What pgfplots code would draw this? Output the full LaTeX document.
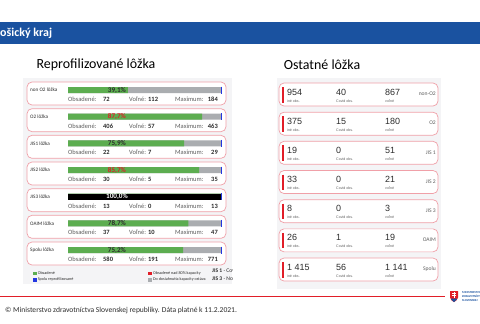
\documentclass[border=0pt]{standalone}
\usepackage{pgfplots}
\pgfplotsset{compat=1.18}
\usepackage{fontspec}
\setmainfont{Carlito}
\newfontfamily\cardfont{Liberation Sans}
\newcommand\fs[1]{\fontsize{#1}{#1}\selectfont}

\definecolor{hdrblue}{RGB}{26,82,160}
\definecolor{occgreen}{RGB}{92,173,80}
\definecolor{freegray}{RGB}{170,173,176}
\definecolor{capblue}{RGB}{35,55,225}
\definecolor{overred}{RGB}{225,30,40}
\definecolor{cardedge}{RGB}{240,160,168}
\definecolor{panelbg}{RGB}{244,244,246}
\definecolor{txtgray}{RGB}{95,95,95}
\definecolor{txtdark}{RGB}{45,45,45}

% occupancy of reprofiled beds, in percent of capacity
\pgfplotstableread{
idx pct
0 39.1
1 87.7
2 75.9
3 85.7
4 100
5 78.7
6 75.2
}\occtable

\begin{document}
\begin{tikzpicture}[x=1bp,y=1bp]
\useasboundingbox (0,0) rectangle (480,-323);
\clip (0,0) rectangle (480,-323);
\fill[white] (0,0) rectangle (480,-323);

% header band
\fill[hdrblue] (0,-22) rectangle (480,-44);
\node[anchor=west,inner sep=0pt,text=white,font=\bfseries\fs{12}] at (0,-33) {\llap{K}ošický kraj};

% panel titles
\node[font=\fs{14},text=black] at (96,-65) {Reprofilizované lôžka};
\node[font=\fs{14},text=black] at (322,-65) {Ostatné lôžka};

% panel backgrounds
\fill[panelbg] (23,-78) rectangle (232,-284);
\fill[panelbg] (277,-78) rectangle (441,-289);

% left cards with labels and counts
\foreach \i/\lab/\o/\v/\m in {0/non O2 lôžka/72/112/184, 1/O2 lôžka/406/57/463,
    2/JIS1 lôžka/22/7/29, 3/JIS2 lôžka/30/5/35, 4/JIS3 lôžka/13/0/13,
    5/OAIM lôžka/37/10/47, 6/Spolu lôžka/580/191/771}{
  \pgfmathsetmacro\yb{-(90+26.667*\i)}
  \draw[cardedge,fill=white,line width=0.7bp,rounded corners=5bp]
    (27,\yb+8) rectangle (226,\yb-15);
  \node[anchor=west,inner sep=0pt,font=\fs{5.2},text=txtdark] at (30,\yb) {\lab};
  \node[anchor=base west,inner sep=0pt,font=\fs{6.5},text=txtgray] at (68,\yb-11.5) {Obsadené:};
  \node[anchor=base west,inner sep=0pt,font=\bfseries\fs{6.5},text=txtdark] at (103,\yb-11.5) {\o};
  \node[anchor=base west,inner sep=0pt,font=\fs{6.5},text=txtgray] at (129,\yb-11.5) {Voľné:};
  \node[anchor=base west,inner sep=0pt,font=\bfseries\fs{6.5},text=txtdark] at (148,\yb-11.5) {\v};
  \node[anchor=base west,inner sep=0pt,font=\fs{6.5},text=txtgray] at (175,\yb-11.5) {Maximum:};
  \node[anchor=base east,inner sep=0pt,font=\bfseries\fs{6.5},text=txtdark] at (218,\yb-11.5) {\m};
}

% right cards
\foreach \i/\a/\b/\c/\lab in {0/954/40/867/non-O2, 1/375/15/180/O2, 2/19/0/51/JIS 1,
    3/33/0/21/JIS 2, 4/8/0/3/JIS 3, 5/26/1/19/OAIM, 6/{1 415}/56/{1 141}/Spolu}{
  \pgfmathsetmacro\yt{-(83+29.17*\i)}
  \draw[cardedge,fill=white,line width=0.7bp,rounded corners=5bp]
    (279,\yt) rectangle (438,\yt-23);
  \draw[overred,line width=1.1bp] (283,\yt-4) -- (283,\yt-19.5);
  \node[anchor=base west,inner sep=0pt,font=\cardfont\fs{9},text=txtdark] at (287,\yt-12) {\a};
  \node[anchor=base west,inner sep=0pt,font=\cardfont\fs{9},text=txtdark] at (336,\yt-12) {\b};
  \node[anchor=base west,inner sep=0pt,font=\cardfont\fs{9},text=txtdark] at (385,\yt-12) {\c};
  \node[anchor=base west,inner sep=0pt,font=\cardfont\fs{3.6},text=txtgray] at (287,\yt-19) {iné obs.};
  \node[anchor=base west,inner sep=0pt,font=\cardfont\fs{3.6},text=txtgray] at (336,\yt-19) {Covid obs.};
  \node[anchor=base west,inner sep=0pt,font=\cardfont\fs{3.6},text=txtgray] at (385,\yt-19) {voľné};
  \node[anchor=east,inner sep=0pt,font=\fs{5.6},text=txtgray] at (436,\yt-11) {\lab};
}

% occupancy bars
\begin{axis}[
  at={(68bp,-250bp)}, anchor=south west,
  scale only axis, width=153bp, height=160bp,
  xmin=0, xmax=100, ymin=0, ymax=6, y dir=reverse,
  enlargelimits=false, hide axis, clip=false,
  legend columns=2, transpose legend,
  legend image code/.code={\fill[#1,draw=none] (0bp,-1.8bp) rectangle (3.6bp,1.8bp);},
  legend style={at={(-0.229,-0.125)}, anchor=north west, draw=none, fill=none,
    font=\fs{4.2}, text=txtdark, inner sep=0pt, row sep=0bp,
    nodes={inner sep=1bp},
    /tikz/every even column/.append style={column sep=74bp}},
  legend cell align=left,
]
\addplot[forget plot, xbar, bar width=6bp, bar shift=0pt, fill=freegray, draw=none]
  coordinates {(100,0) (100,1) (100,2) (100,3) (100,4) (100,5) (100,6)};
\addplot[forget plot, xbar, bar width=6bp, bar shift=0pt, fill=occgreen, draw=none]
  table[x=pct, y=idx] {\occtable};
\addplot[forget plot, xbar, bar width=6bp, bar shift=0pt, fill=black, draw=none]
  coordinates {(100,4)};
\addplot[forget plot, only marks, mark=|, mark size=3.5bp, mark options={capblue, line width=1bp}]
  coordinates {(100,0) (100,1) (100,2) (100,3) (100,4) (100,5) (100,6)};

\node[font=\bfseries\fs{7.2},text=txtdark] at (axis cs:32,0) {39,1\%};
\node[font=\bfseries\fs{7.2},text=overred] at (axis cs:32,1) {87,7\%};
\node[font=\bfseries\fs{7.2},text=txtdark] at (axis cs:32,2) {75,9\%};
\node[font=\bfseries\fs{7.2},text=overred] at (axis cs:32,3) {85,7\%};
\node[font=\bfseries\fs{7.2},text=white] at (axis cs:32,4) {100,0\%};
\node[font=\bfseries\fs{7.2},text=txtdark] at (axis cs:32,5) {78,7\%};
\node[font=\bfseries\fs{7.2},text=txtdark] at (axis cs:32,6) {75,2\%};

\addlegendimage{fill=occgreen}
\addlegendentry{Obsadené}
\addlegendimage{fill=capblue}
\addlegendentry{Spolu reprofilizované}
\addlegendimage{fill=overred}
\addlegendentry{Obsadené nad 80\% kapacity}
\addlegendimage{fill=freegray}
\addlegendentry{Do dosiahnutia kapacity ostáva}
\end{axis}

% abbreviations note (cut by the panel edge)
\begin{scope}
\clip (200,-260) rectangle (232,-290);
\node[anchor=base west,inner sep=0pt,font=\fs{5.6},text=txtdark] at (212,-272.2) {\textbf{JIS 1} - Covid};
\node[anchor=base west,inner sep=0pt,font=\fs{5.6},text=txtdark] at (212,-280) {\textbf{JIS 3} - Non};
\end{scope}

% footer
\draw[overred,line width=1.2bp] (0,-296.5) -- (445,-296.5);
\node[anchor=west,inner sep=0pt,font=\fs{7.6},text=txtdark] at (5,-311)
  {© Ministerstvo zdravotníctva Slovenskej republiky. Dáta platné k 11.2.2021.};

% ministry logo
\fill[overred] (450,-291) -- (458,-291) -- (458,-297.5)
  .. controls (458,-300) and (455.5,-301) .. (454,-302)
  .. controls (452.5,-301) and (450,-300) .. (450,-297.5) -- cycle;
\fill[hdrblue] (451,-299) .. controls (452,-298) and (453,-298) .. (454,-299)
  .. controls (455,-298) and (456,-298) .. (457,-299)
  .. controls (456,-300.5) and (455,-301.2) .. (454,-302)
  .. controls (453,-301.2) and (452,-300.5) .. (451,-299) -- cycle;
\draw[white,line width=0.6bp] (454,-292.2) -- (454,-298.2)
  (452.3,-293.6) -- (455.7,-293.6) (451.8,-295.4) -- (456.2,-295.4);
\node[anchor=base west,inner sep=0pt,font=\bfseries\fs{3},text=hdrblue] at (462,-293.5) {MINISTERSTVO};
\node[anchor=base west,inner sep=0pt,font=\bfseries\fs{3},text=hdrblue] at (462,-297.3) {ZDRAVOTNÍCTVA};
\node[anchor=base west,inner sep=0pt,font=\bfseries\fs{3},text=hdrblue] at (462,-301.1) {SLOVENSKEJ};
\end{tikzpicture}
\end{document}
